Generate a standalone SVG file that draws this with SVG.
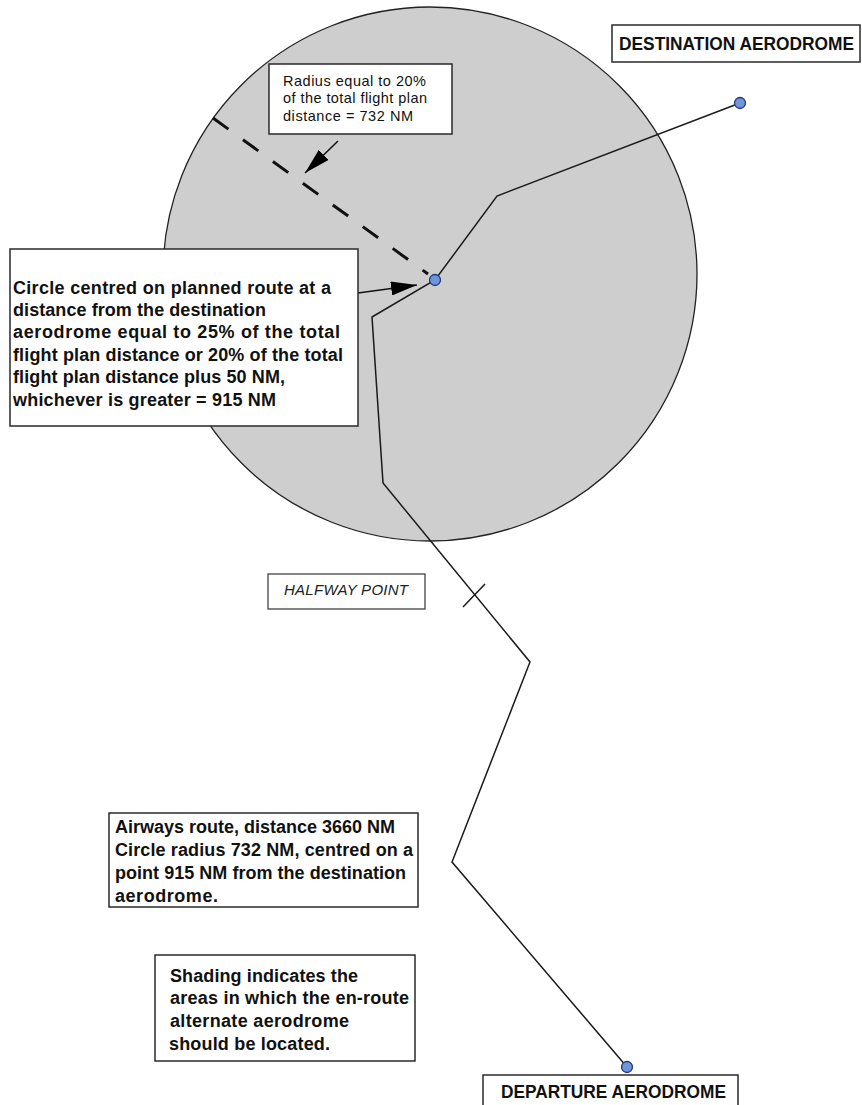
<svg xmlns="http://www.w3.org/2000/svg" width="862" height="1105" viewBox="0 0 862 1105">
<style>
.box{fill:#fff;stroke:#2a2a2a;stroke-width:1.5}
.b{font-family:"Liberation Sans",Arial,sans-serif;font-weight:bold;font-size:18px;fill:#111}
.c{font-family:"Liberation Sans",Arial,sans-serif;font-weight:bold;font-size:17.5px;fill:#111}
.r{font-family:"Liberation Sans",Arial,sans-serif;font-size:14.5px;fill:#111}
.i{font-family:"Liberation Sans",Arial,sans-serif;font-style:italic;font-size:15px;fill:#222}
.route{fill:none;stroke:#1a1a1a;stroke-width:1.5;stroke-linejoin:miter}
.dot{fill:#6f95dc;stroke:#22386e;stroke-width:1.3}
.arr{stroke:#111;stroke-width:1.5;fill:none}
</style>
<defs>
<marker id="ah" viewBox="0 0 26 14" refX="26" refY="7" markerWidth="26" markerHeight="14" markerUnits="userSpaceOnUse" orient="auto">
<path d="M0,0 L26,7 L0,14 z" fill="#000"/>
</marker>
</defs>
<rect width="862" height="1105" fill="#fff"/>
<g id="circle">
<circle cx="430" cy="274" r="267" fill="#cecece" stroke="#222" stroke-width="1.3"/>
</g>
<g id="connectors">
<polyline class="route" points="627,1067 452,862 530,662 383,483 372,317 435,280 497,196 740,103"/>
<line x1="463" y1="607" x2="485" y2="584" stroke="#1a1a1a" stroke-width="1.5"/>
<line x1="213" y1="118" x2="428" y2="274" stroke="#111" stroke-width="3" stroke-dasharray="19 18"/>
<line class="arr" x1="338" y1="141" x2="305" y2="173" marker-end="url(#ah)"/>
<line class="arr" x1="358" y1="293" x2="417" y2="285" marker-end="url(#ah)"/>
</g>
<g id="dest-dot"><circle class="dot" cx="740" cy="103" r="5.5"/></g>
<g id="center-dot"><circle class="dot" cx="435" cy="280" r="5.5"/></g>
<g id="dep-dot"><circle class="dot" cx="627" cy="1067" r="5.5"/></g>
<g id="destination">
<rect class="box" x="612" y="25" width="248" height="37"/>
<text class="c" x="619" y="50" textLength="235" lengthAdjust="spacingAndGlyphs">DESTINATION AERODROME</text>
</g>
<g id="radius-note">
<rect class="box" x="269" y="64" width="183" height="70"/>
<text class="r" x="283" y="86" textLength="143">Radius equal to 20%</text>
<text class="r" x="283" y="103" textLength="144">of the total flight plan</text>
<text class="r" x="283" y="121" textLength="130">distance = 732 NM</text>
</g>
<g id="centre-note">
<rect class="box" x="10" y="249" width="348" height="177"/>
<text class="b" x="13" y="294" textLength="318">Circle centred on planned route at a</text>
<text class="b" x="13" y="316" textLength="253">distance from the destination</text>
<text class="b" x="13" y="338" textLength="327">aerodrome equal to 25% of the total</text>
<text class="b" x="13" y="361" textLength="330">flight plan distance or 20% of the total</text>
<text class="b" x="13" y="383" textLength="272">flight plan distance plus 50 NM,</text>
<text class="b" x="13" y="406" textLength="263">whichever is greater = 915 NM</text>
</g>
<g id="halfway">
<rect x="268" y="574" width="157" height="35" fill="#fff" stroke="#333" stroke-width="1.2"/>
<text class="i" x="284" y="595" textLength="124">HALFWAY POINT</text>
</g>
<g id="airways-note">
<rect class="box" x="109" y="813" width="309" height="94"/>
<text class="b" x="115" y="833" textLength="280">Airways route, distance 3660 NM</text>
<text class="b" x="115" y="856" textLength="298">Circle radius 732 NM, centred on a</text>
<text class="b" x="115" y="879" textLength="291">point 915 NM from the destination</text>
<text class="b" x="115" y="902" textLength="103">aerodrome.</text>
</g>
<g id="shading-note">
<rect class="box" x="155" y="955" width="260" height="106"/>
<text class="b" x="170" y="982" textLength="188">Shading indicates the</text>
<text class="b" x="170" y="1004" textLength="239">areas in which the en-route</text>
<text class="b" x="170" y="1027" textLength="179">alternate aerodrome</text>
<text class="b" x="169" y="1050" textLength="161">should be located.</text>
</g>
<g id="departure">
<rect class="box" x="483" y="1075" width="255" height="40"/>
<text class="c" x="501" y="1098" textLength="225" lengthAdjust="spacingAndGlyphs">DEPARTURE AERODROME</text>
</g>
</svg>
